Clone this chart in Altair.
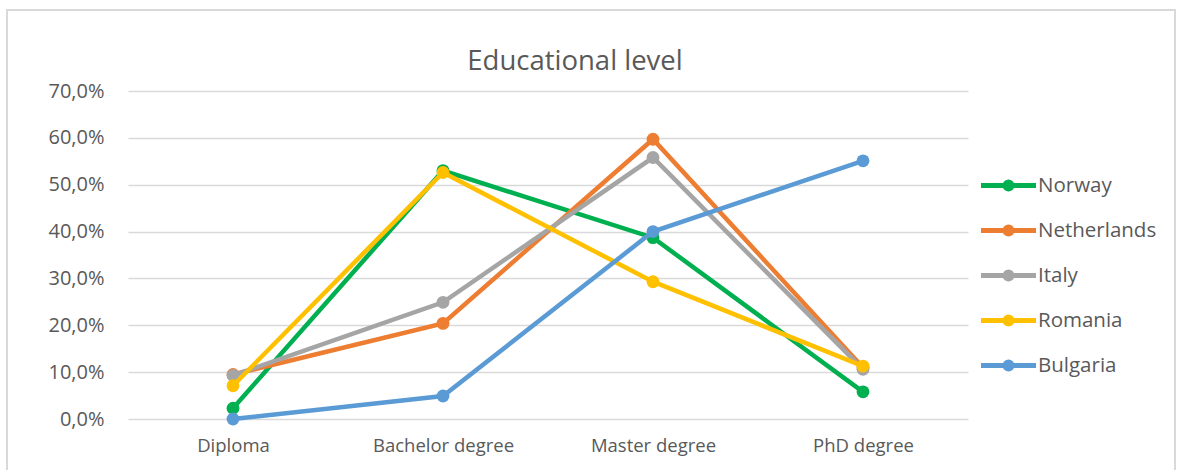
import altair as alt
import pandas as pd

levels = ["Diploma", "Bachelor degree", "Master degree", "PhD degree"]
countries = ["Norway", "Netherlands", "Italy", "Romania", "Bulgaria"]
colors = ["#00B050", "#ED7D31", "#A5A5A5", "#FFC000", "#5B9BD5"]

norway = [0.023, 0.530, 0.387, 0.058]
netherlands = [0.095, 0.204, 0.597, 0.110]
italy = [0.093, 0.249, 0.558, 0.106]
romania = [0.071, 0.526, 0.293, 0.113]
bulgaria = [0.000, 0.049, 0.400, 0.551]

series = dict(zip(countries, [norway, netherlands, italy, romania, bulgaria]))
rows = [
    {"Country": c, "Level": lv, "Share": v}
    for c in countries
    for lv, v in zip(levels, series[c])
]
df = pd.DataFrame(rows)

y_ticks = [0.0, 0.1, 0.2, 0.3, 0.4, 0.5, 0.6, 0.7]
FONT = "Open Sans"
TEXT = "#595959"
TITLE = "Educational level"

# legend glyph: a short line with a dot in the middle (stroked path)
legend_glyph = (
    "M-2.75,0H2.75 "
    "M-0.35,0A0.35,0.35 0 1,0 0.35,0A0.35,0.35 0 1,0 -0.35,0 "
    "M-0.1,0A0.1,0.1 0 1,0 0.1,0A0.1,0.1 0 1,0 -0.1,0"
)

x_enc = alt.X(
    "Level:N",
    sort=levels,
    scale=alt.Scale(type="point", padding=0.5),
    axis=alt.Axis(
        title=None, labelAngle=0, domain=False, ticks=False, grid=False,
        labelFontSize=18.5, labelColor=TEXT, labelFont=FONT, labelPadding=17,
    ),
)
y_enc = alt.Y(
    "Share:Q",
    scale=alt.Scale(domain=[0, 0.7], nice=False),
    axis=alt.Axis(
        title=None, values=y_ticks, domain=False, ticks=False,
        gridColor="#D9D9D9", gridWidth=1.3,
        labelExpr="replace(format(datum.value, '.1%'), '.', ',')",
        labelFontSize=20, labelColor=TEXT, labelFont=FONT, labelPadding=24,
    ),
)
color_enc = alt.Color(
    "Country:N",
    scale=alt.Scale(domain=countries, range=colors),
    legend=alt.Legend(
        title=None, orient="none", legendX=868, legendY=82,
        symbolType=legend_glyph, symbolSize=400, symbolStrokeWidth=5,
        labelFontSize=20.5, labelColor=TEXT, labelFont=FONT, labelOffset=17,
        rowPadding=18, padding=0,
    ),
)

layers = []
for c in countries:
    base = alt.Chart(df).transform_filter(alt.datum.Country == c)
    layers.append(
        base.mark_line(strokeWidth=4.5).encode(x=x_enc, y=y_enc, color=color_enc)
    )
    layers.append(
        base.mark_point(filled=True, size=165, opacity=1).encode(
            x=x_enc, y=y_enc, color=color_enc
        )
    )

# outer chart frame
frame = alt.Chart(df).mark_rect(
    fill="transparent", stroke="#D9D9D9", strokeWidth=1.5
).encode(
    x=alt.value(-121), x2=alt.value(1047), y=alt.value(-81), y2=alt.value(400)
)

# chart heading
heading = alt.Chart(pd.DataFrame({"t": [TITLE]})).mark_text(
    fontSize=27.5, font=FONT, color=TEXT, align="center", baseline="middle"
).encode(text="t:N", x=alt.value(447), y=alt.value(-29))

chart = alt.layer(frame, *layers, heading).properties(
    width=840,
    height=328,
    background="white",
    autosize=alt.AutoSizeParams(type="none"),
    padding={"left": 128, "top": 91, "right": 214, "bottom": 51},
).configure_view(stroke="transparent", strokeWidth=0)

chart.save("out.html", embed_options={"renderer": "svg", "actions": False})
